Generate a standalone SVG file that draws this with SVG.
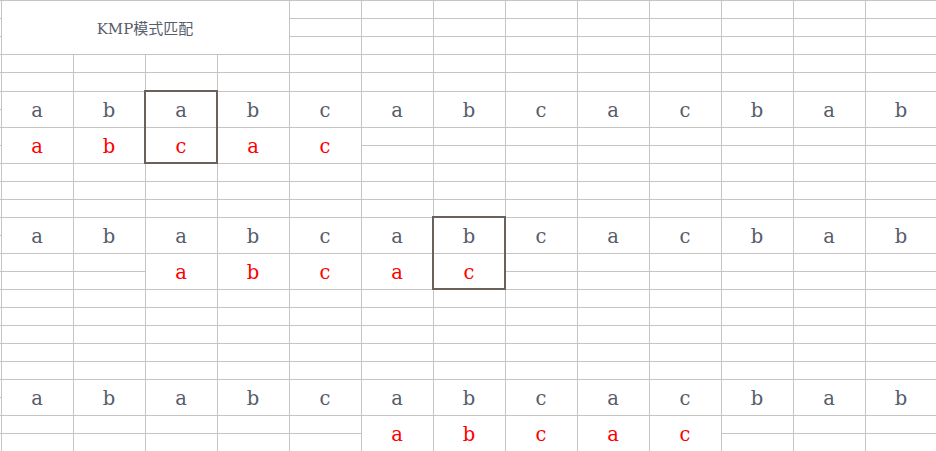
<svg xmlns="http://www.w3.org/2000/svg" width="936" height="451" viewBox="0 0 936 451">
<style>
.g{stroke:#c4c4c4;stroke-width:1;fill:none}
.t{font-family:"DejaVu Serif","Liberation Serif",serif;font-size:19.5px;fill:#575d6a;text-anchor:middle}
.r{fill:#ff0000}
.title{font-family:"DejaVu Serif","Noto Sans CJK SC",serif;font-size:15px;fill:#575d6a;text-anchor:middle}
.box{fill:none;stroke:#6a605c;stroke-width:2}
</style>
<rect width="936" height="451" fill="#ffffff"/>
<g id="grid" class="g">
<path d="M0 0.5H936M289.5 18.5H936M289.5 36.5H936M0 54.5H936M0 72.5H936M0 91.5H936M0 127.5H936M361.5 145.5H936M0 163.5H936M0 181.5H936M0 199.5H936M0 217.5H936M0 253.5H936M0 271.5H145.5M505.5 271.5H936M0 289.5H936M0 307.5H936M0 325.5H936M0 343.5H936M0 361.5H936M0 379.5H936M0 415.5H936M0 433.5H361.5M721.5 433.5H936"/>
<path d="M0 18.5H1.5M0 36.5H1.5M0 109.5H1.5M0 145.5H1.5M0 235.5H1.5M0 397.5H1.5"/>
<path d="M1.5 0V451M73.5 54.5V451M145.5 54.5V451M217.5 54.5V451M289.5 0V451M361.5 0V451M433.5 0V451M505.5 0V451M577.5 0V451M649.5 0V451M721.5 0V451M793.5 0V451M865.5 0V451"/>
</g>
<g id="title"><text class="title" x="145" y="34">KMP模式匹配</text></g>
<g id="text1" class="t">
<text x="37" y="117">a</text><text x="109" y="117">b</text><text x="181" y="117">a</text><text x="253" y="117">b</text><text x="325" y="117">c</text><text x="397" y="117">a</text><text x="469" y="117">b</text><text x="541" y="117">c</text><text x="613" y="117">a</text><text x="685" y="117">c</text><text x="757" y="117">b</text><text x="829" y="117">a</text><text x="901" y="117">b</text>
</g>
<g id="pattern1" class="t r">
<text x="37" y="153">a</text><text x="109" y="153">b</text><text x="181" y="153">c</text><text x="253" y="153">a</text><text x="325" y="153">c</text>
</g>
<g id="text2" class="t">
<text x="37" y="243">a</text><text x="109" y="243">b</text><text x="181" y="243">a</text><text x="253" y="243">b</text><text x="325" y="243">c</text><text x="397" y="243">a</text><text x="469" y="243">b</text><text x="541" y="243">c</text><text x="613" y="243">a</text><text x="685" y="243">c</text><text x="757" y="243">b</text><text x="829" y="243">a</text><text x="901" y="243">b</text>
</g>
<g id="pattern2" class="t r">
<text x="181" y="279">a</text><text x="253" y="279">b</text><text x="325" y="279">c</text><text x="397" y="279">a</text><text x="469" y="279">c</text>
</g>
<g id="text3" class="t">
<text x="37" y="405">a</text><text x="109" y="405">b</text><text x="181" y="405">a</text><text x="253" y="405">b</text><text x="325" y="405">c</text><text x="397" y="405">a</text><text x="469" y="405">b</text><text x="541" y="405">c</text><text x="613" y="405">a</text><text x="685" y="405">c</text><text x="757" y="405">b</text><text x="829" y="405">a</text><text x="901" y="405">b</text>
</g>
<g id="pattern3" class="t r">
<text x="397" y="441">a</text><text x="469" y="441">b</text><text x="541" y="441">c</text><text x="613" y="441">a</text><text x="685" y="441">c</text>
</g>
<g id="mismatch1"><rect class="box" x="145" y="91" width="72" height="72"/></g>
<g id="mismatch2"><rect class="box" x="433" y="217" width="72" height="72"/></g>
</svg>
